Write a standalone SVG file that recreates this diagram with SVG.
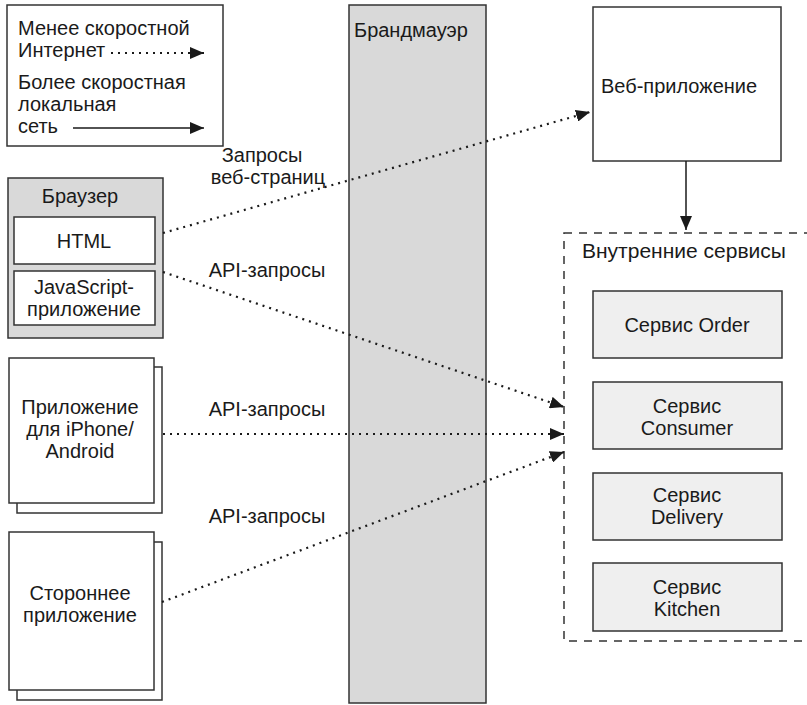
<svg xmlns="http://www.w3.org/2000/svg" width="807" height="705" viewBox="0 0 807 705">
<defs>
<marker id="ah" viewBox="0 0 14 12" refX="14" refY="6" markerWidth="14" markerHeight="12" markerUnits="userSpaceOnUse" orient="auto">
<path d="M0,0 L14,6 L0,12 Z" fill="#1a1a1a"/>
</marker>
</defs>
<style>
text{font-family:"Liberation Sans",Arial,sans-serif;font-size:20px;fill:#1a1a1a}
.c{text-anchor:middle}
.box{fill:#fff;stroke:#333;stroke-width:1.5}
.gray{fill:#d9d9d9;stroke:#333;stroke-width:1.5}
.svc{fill:#efefef;stroke:#333;stroke-width:1.5}
.dot{fill:none;stroke:#1a1a1a;stroke-width:2.2;stroke-dasharray:2 5;marker-end:url(#ah)}
.solid{fill:none;stroke:#1a1a1a;stroke-width:1.5;marker-end:url(#ah)}
.dash{fill:none;stroke:#333;stroke-width:1.5;stroke-dasharray:8 7}
</style>
<rect width="807" height="705" fill="#fff"/>

<g id="legend">
<rect class="box" x="7" y="5" width="216" height="141"/>
<text x="18" y="35">Менее скоростной</text>
<text x="18" y="57">Интернет</text>
<text x="18" y="89">Более скоростная</text>
<text x="18" y="111">локальная</text>
<text x="18" y="133">сеть</text>
<line class="dot" x1="111" y1="53" x2="204" y2="53"/>
<line class="solid" x1="73" y1="128" x2="204" y2="128"/>
</g>

<g id="firewall">
<rect class="gray" x="349" y="5" width="137" height="698"/>
<text x="354" y="37">Брандмауэр</text>
</g>

<g id="browser">
<rect class="gray" x="8" y="178" width="155" height="160"/>
<text class="c" x="80" y="203">Браузер</text>
<rect class="box" x="14" y="217" width="141" height="47"/>
<text class="c" x="84" y="248">HTML</text>
<rect class="box" x="14" y="271" width="141" height="54"/>
<text class="c" x="84" y="294">JavaScript-</text>
<text class="c" x="84" y="316">приложение</text>
</g>

<g id="mobile-app">
<rect class="box" x="17" y="367" width="145" height="146"/>
<rect class="box" x="9" y="358" width="145" height="145"/>
<text class="c" x="80" y="414">Приложение</text>
<text class="c" x="80" y="436">для iPhone/</text>
<text class="c" x="80" y="458">Android</text>
</g>

<g id="third-party-app">
<rect class="box" x="17" y="542" width="145" height="158"/>
<rect class="box" x="9" y="532" width="145" height="158"/>
<text class="c" x="80" y="600">Стороннее</text>
<text class="c" x="80" y="622">приложение</text>
</g>

<g id="web-app">
<rect class="box" x="593" y="7" width="188" height="154"/>
<text x="601" y="93">Веб-приложение</text>
</g>

<g id="internal-services">
<rect class="dash" x="564" y="233" width="260" height="408"/>
<text x="582" y="258" style="font-size:21px">Внутренние сервисы</text>
</g>

<g id="order-service">
<rect class="svc" x="593" y="291" width="189" height="67"/>
<text class="c" x="687" y="332">Сервис Order</text>
</g>

<g id="consumer-service">
<rect class="svc" x="593" y="382" width="189" height="67"/>
<text class="c" x="687" y="413">Сервис</text>
<text class="c" x="687" y="435">Consumer</text>
</g>

<g id="delivery-service">
<rect class="svc" x="593" y="473" width="189" height="67"/>
<text class="c" x="687" y="502">Сервис</text>
<text class="c" x="687" y="524">Delivery</text>
</g>

<g id="kitchen-service">
<rect class="svc" x="593" y="563" width="189" height="68"/>
<text class="c" x="687" y="594">Сервис</text>
<text class="c" x="687" y="616">Kitchen</text>
</g>

<g id="connectors">
<line class="dot" x1="163" y1="233" x2="590" y2="112"/>
<line class="dot" x1="163" y1="272" x2="564" y2="407"/>
<line class="dot" x1="163" y1="434" x2="564" y2="434"/>
<line class="dot" x1="162" y1="602" x2="564" y2="452"/>
<line class="solid" x1="686" y1="161" x2="686" y2="230"/>
<text class="c" x="262" y="162">Запросы</text>
<text class="c" x="268" y="184">веб-страниц</text>
<text class="c" x="267" y="277">API-запросы</text>
<text class="c" x="267" y="416">API-запросы</text>
<text class="c" x="267" y="523">API-запросы</text>
</g>
</svg>
